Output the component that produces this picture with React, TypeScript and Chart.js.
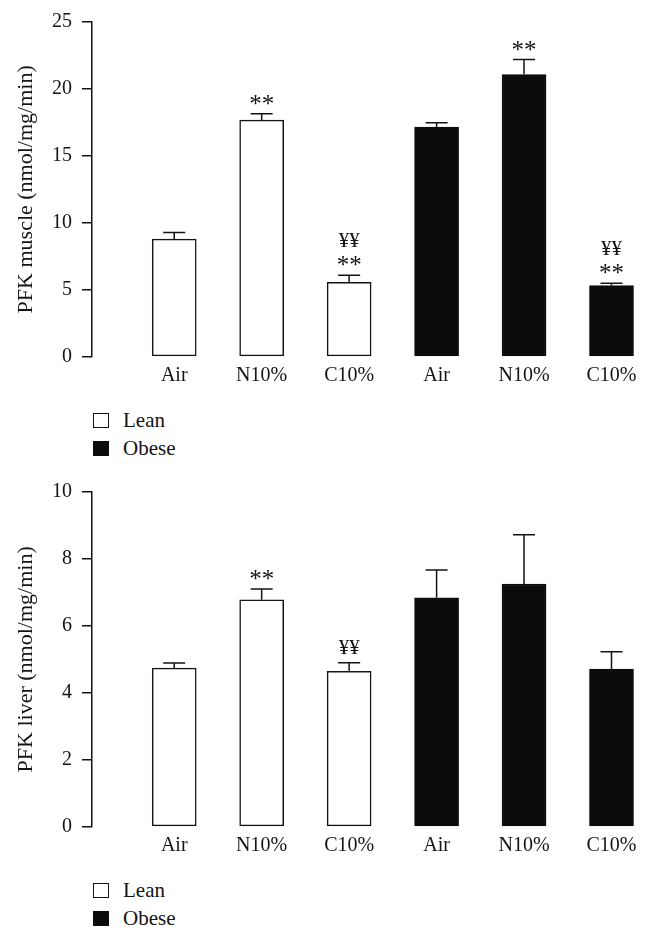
import React, { useEffect, useRef } from "react";
import { Chart, registerables } from "chart.js";

Chart.register(...registerables);

const FONT = "'Liberation Serif', 'Times New Roman', serif";
const INK = "#141414";
const BAR_BLACK = "#0b0c0b";

// ---------- data ----------
const categories = ["Air", "N10%", "C10%", "Air", "N10%", "C10%"];

const muscleLean = [8.78, 17.67, 5.56];
const muscleLeanErr = [0.49, 0.47, 0.52];
const muscleLeanMarks = [[], ["**"], ["**", "¥¥"]];
const muscleObese = [17.15, 21.08, 5.32];
const muscleObeseErr = [0.32, 1.11, 0.17];
const muscleObeseMarks = [[], ["**"], ["**", "¥¥"]];

const liverLean = [4.74, 6.78, 4.64];
const liverLeanErr = [0.15, 0.32, 0.26];
const liverLeanMarks = [[], ["**"], ["¥¥"]];
const liverObese = [6.84, 7.25, 4.71];
const liverObeseErr = [0.83, 1.47, 0.52];
const liverObeseMarks = [[], [], []];

const seriesNames = ["Lean", "Obese"];

// ---------- plugin: error bars + significance marks ----------
const errorBarPlugin = {
  id: "errorBars",
  afterDatasetsDraw(chart: any) {
    const ctx = chart.ctx;
    const yScale = chart.scales.y;
    chart.data.datasets.forEach((ds: any, di: number) => {
      const meta = chart.getDatasetMeta(di);
      meta.data.forEach((bar: any, i: number) => {
        const v = ds.data[i].y;
        const e = ds.errors[i];
        const top = yScale.getPixelForValue(v + e);
        const half = bar.width / 4;
        ctx.save();
        ctx.strokeStyle = INK;
        ctx.lineWidth = 1.5;
        ctx.beginPath();
        ctx.moveTo(bar.x, bar.y);
        ctx.lineTo(bar.x, top);
        ctx.moveTo(bar.x - half, top);
        ctx.lineTo(bar.x + half, top);
        ctx.stroke();
        let cursor = top - 9;
        for (const m of ds.marks[i]) {
          const size = m.includes("*") ? 25 : 21;
          ctx.font = `${size}px ${FONT}`;
          ctx.textAlign = "center";
          ctx.textBaseline = "alphabetic";
          const mt = ctx.measureText(m);
          const asc = mt.actualBoundingBoxAscent;
          const desc = mt.actualBoundingBoxDescent;
          const baseline = cursor - desc;
          ctx.fillStyle = INK;
          ctx.fillText(m, bar.x, baseline);
          cursor = baseline - asc - 9;
        }
        ctx.restore();
      });
    });
  },
};

type Props = {
  yTitle: string;
  yMax: number;
  yStep: number;
  lean: number[];
  leanErr: number[];
  leanMarks: string[][];
  obese: number[];
  obeseErr: number[];
  obeseMarks: string[][];
};

function BarPanel(p: Props) {
  const ref = useRef<HTMLCanvasElement | null>(null);
  useEffect(() => {
    if (!ref.current) return;
    const chart = new Chart(ref.current, {
      type: "bar",
      data: {
        datasets: [
          {
            label: seriesNames[0],
            data: p.lean.map((v, i) => ({ x: i, y: v })),
            errors: p.leanErr,
            marks: p.leanMarks,
            backgroundColor: "#ffffff",
            borderColor: INK,
            borderWidth: 1.5,
            borderSkipped: false,
            barThickness: 44,
            grouped: false,
          } as any,
          {
            label: seriesNames[1],
            data: p.obese.map((v, i) => ({ x: i + p.lean.length, y: v })),
            errors: p.obeseErr,
            marks: p.obeseMarks,
            backgroundColor: BAR_BLACK,
            borderColor: BAR_BLACK,
            borderWidth: 1.5,
            borderSkipped: false,
            barThickness: 44,
            grouped: false,
          } as any,
        ],
      },
      options: {
        animation: false,
        responsive: false,
        devicePixelRatio: 1,
        layout: { padding: { top: 19.3, left: 0, right: 5, bottom: 0 } },
        plugins: {
          legend: { display: false },
          tooltip: { enabled: false },
        },
        scales: {
          x: {
            type: "linear",
            min: -0.94,
            max: 5.383,
            offset: false,
            afterBuildTicks: (axis: any) => {
              axis.ticks = categories.map((_, i) => ({ value: i }));
            },
            afterFit: (s: any) => {
              s.height = 400 - 356.7;
            },
            grid: { display: false, drawTicks: false },
            border: { display: false },
            ticks: {
              autoSkip: false,
              maxRotation: 0,
              padding: 7,
              color: INK,
              font: { family: FONT, size: 20 },
              callback: (v: any) => categories[v as number] ?? "",
            },
          },
          y: {
            min: 0,
            max: p.yMax,
            afterFit: (s: any) => {
              s.width = 92;
            },
            grid: {
              drawOnChartArea: false,
              drawTicks: true,
              tickLength: 10,
              color: INK,
              lineWidth: 1.5,
            },
            border: { display: true, color: INK, width: 1.5 },
            ticks: {
              stepSize: p.yStep,
              padding: 10,
              color: INK,
              font: { family: FONT, size: 20 },
            },
            title: {
              display: true,
              text: p.yTitle,
              color: INK,
              font: { family: FONT, size: 22 },
              padding: { top: 13, bottom: 0 },
            },
          },
        },
      },
      plugins: [errorBarPlugin],
    });
    return () => chart.destroy();
  }, []);
  return <canvas ref={ref} width={650} height={400} style={{ display: "block" }} />;
}

function Legend() {
  const row = (filled: boolean, label: string) => (
    <div style={{ display: "flex", alignItems: "center", height: 28 }}>
      <div
        style={{
          width: 16,
          height: 15,
          boxSizing: "border-box",
          border: `1.5px solid ${filled ? BAR_BLACK : INK}`,
          background: filled ? BAR_BLACK : "#fff",
          marginRight: 14,
        }}
      />
      <span style={{ fontFamily: FONT, fontSize: 21, color: INK, lineHeight: "28px" }}>{label}</span>
    </div>
  );
  return (
    <div>
      {row(false, seriesNames[0])}
      {row(true, seriesNames[1])}
    </div>
  );
}

export default function App() {
  return (
    <div style={{ position: "relative", width: 650, height: 939, background: "#fff", overflow: "hidden" }}>
      <style>{"body{margin:0;background:#fff}"}</style>
      <div style={{ position: "absolute", top: 0, left: 0 }}>
        <BarPanel
          yTitle="PFK muscle (nmol/mg/min)"
          yMax={25}
          yStep={5}
          lean={muscleLean}
          leanErr={muscleLeanErr}
          leanMarks={muscleLeanMarks}
          obese={muscleObese}
          obeseErr={muscleObeseErr}
          obeseMarks={muscleObeseMarks}
        />
      </div>
      <div style={{ position: "absolute", top: 406, left: 93 }}>
        <Legend />
      </div>
      <div style={{ position: "absolute", top: 470, left: 0 }}>
        <BarPanel
          yTitle="PFK liver (nmol/mg/min)"
          yMax={10}
          yStep={2}
          lean={liverLean}
          leanErr={liverLeanErr}
          leanMarks={liverLeanMarks}
          obese={liverObese}
          obeseErr={liverObeseErr}
          obeseMarks={liverObeseMarks}
        />
      </div>
      <div style={{ position: "absolute", top: 876, left: 93 }}>
        <Legend />
      </div>
    </div>
  );
}
